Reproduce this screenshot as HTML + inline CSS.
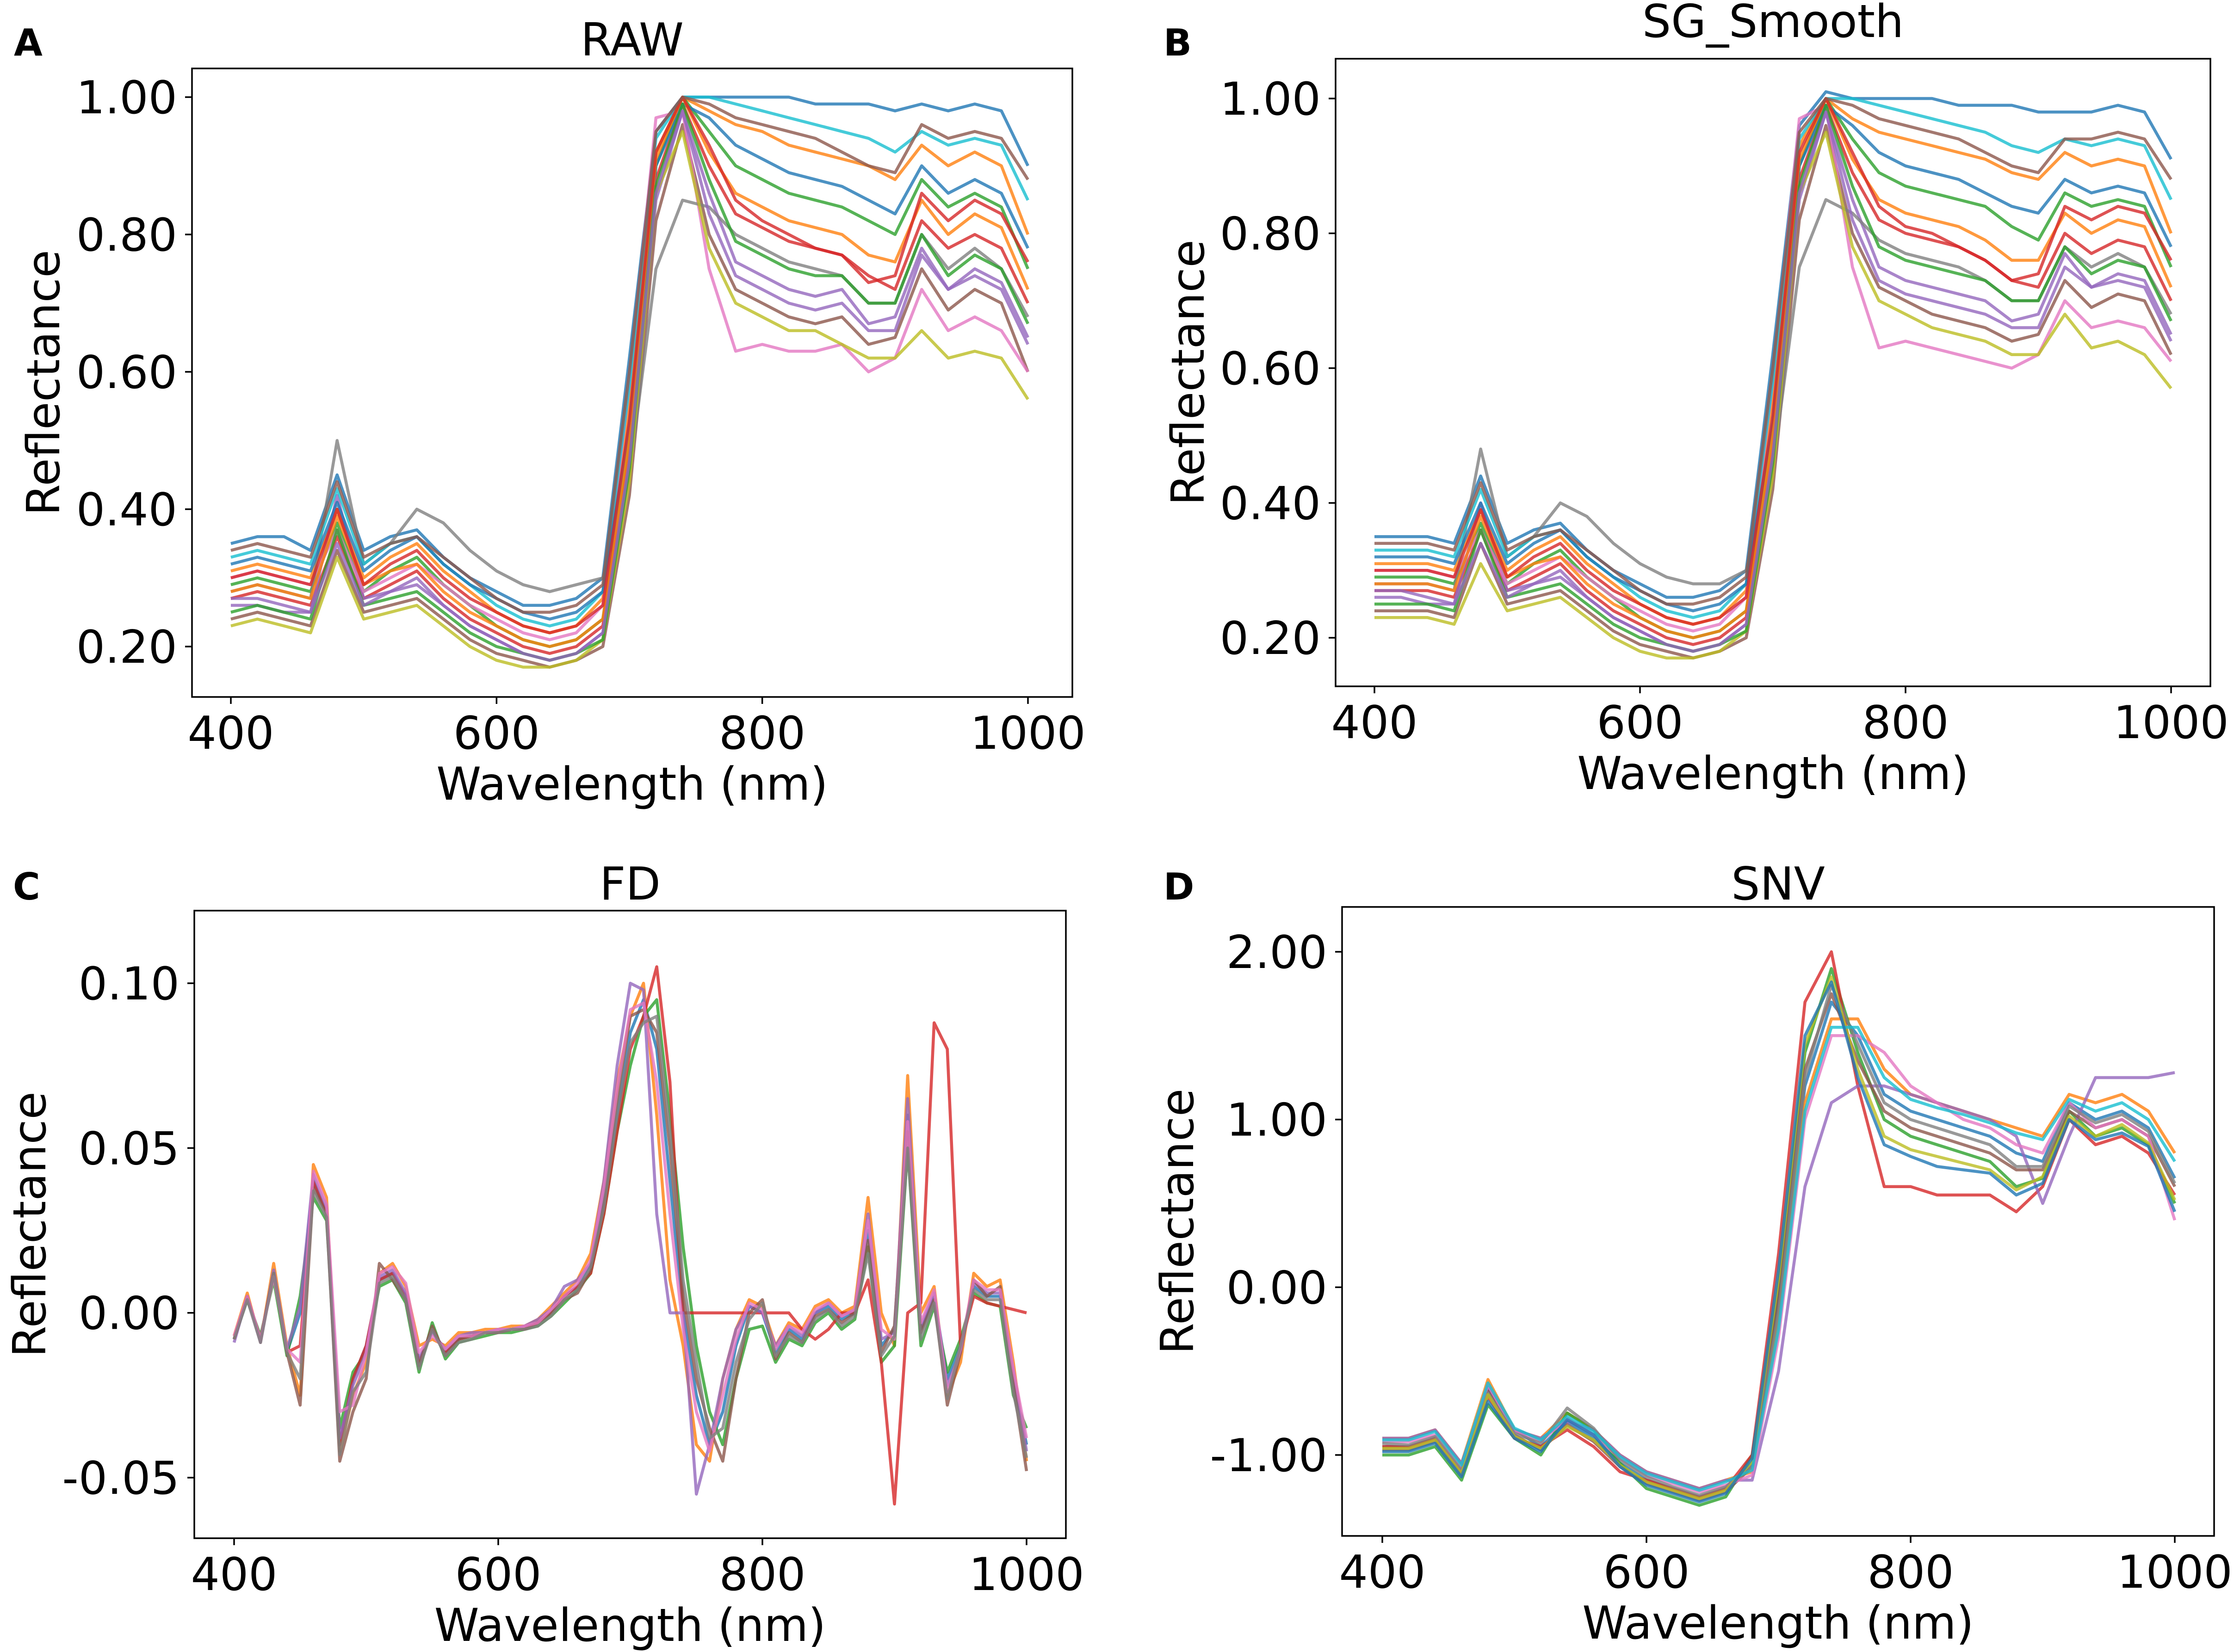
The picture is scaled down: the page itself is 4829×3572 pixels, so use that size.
<!DOCTYPE html>
<html><head><meta charset="utf-8"><style>
html,body{margin:0;padding:0;background:#fff;}
svg{display:block;}
text{font-family:"DejaVu Sans","Liberation Sans",sans-serif;fill:#000;}
</style></head><body>
<svg id="fig" xmlns="http://www.w3.org/2000/svg" width="4829" height="3572" viewBox="0 0 4829 3572"></svg>
<script>
const wl20=[400,420,440,460,480,500,520,540,560,580,600,620,640,660,680,700,720,740,760,780,800,820,840,860,880,900,920,940,960,980,1000];
const wl10=[400,410,420,430,440,450,460,470,480,490,500,510,520,530,540,550,560,570,580,590,600,610,620,630,640,650,660,670,680,690,700,710,720,730,740,750,760,770,780,790,800,810,820,830,840,850,860,870,880,890,900,910,920,930,940,950,960,970,980,990,1000];
const xTicks=[400,600,800,1000];
const xTickLabels=["400","600","800","1000"];

const rawS1=[0.35,0.36,0.36,0.34,0.45,0.34,0.36,0.37,0.33,0.30,0.28,0.26,0.26,0.27,0.30,0.62,0.95,1.0,1.0,1.0,1.0,1.0,0.99,0.99,0.99,0.98,0.99,0.98,0.99,0.98,0.90];
const rawS2=[0.31,0.32,0.31,0.30,0.40,0.30,0.33,0.35,0.31,0.28,0.25,0.23,0.22,0.23,0.27,0.55,0.92,1.0,0.98,0.96,0.95,0.93,0.92,0.91,0.90,0.88,0.93,0.90,0.92,0.90,0.80];
const rawS3=[0.29,0.30,0.29,0.28,0.38,0.28,0.31,0.33,0.29,0.26,0.23,0.21,0.20,0.21,0.24,0.50,0.90,1.0,0.95,0.90,0.88,0.86,0.85,0.84,0.82,0.80,0.88,0.84,0.86,0.84,0.75];
const rawS4=[0.27,0.28,0.27,0.26,0.36,0.27,0.29,0.31,0.27,0.24,0.22,0.20,0.19,0.20,0.23,0.48,0.88,0.99,0.90,0.83,0.81,0.79,0.78,0.77,0.74,0.72,0.82,0.78,0.80,0.78,0.70];
const rawS5=[0.26,0.26,0.25,0.25,0.42,0.27,0.28,0.29,0.26,0.23,0.21,0.19,0.18,0.19,0.22,0.45,0.85,0.98,0.86,0.76,0.74,0.72,0.71,0.72,0.67,0.68,0.78,0.72,0.75,0.73,0.65];
const rawS6=[0.24,0.25,0.24,0.23,0.34,0.25,0.26,0.27,0.24,0.21,0.19,0.18,0.17,0.18,0.20,0.42,0.82,0.96,0.80,0.72,0.70,0.68,0.67,0.68,0.64,0.65,0.75,0.69,0.72,0.70,0.60];
const rawS7=[0.30,0.31,0.30,0.29,0.37,0.28,0.30,0.32,0.29,0.26,0.24,0.22,0.21,0.22,0.26,0.58,0.97,0.98,0.75,0.63,0.64,0.63,0.63,0.64,0.60,0.62,0.72,0.66,0.68,0.66,0.60];
const rawS8=[0.28,0.29,0.28,0.27,0.50,0.32,0.35,0.40,0.38,0.34,0.31,0.29,0.28,0.29,0.30,0.45,0.75,0.85,0.84,0.80,0.78,0.76,0.75,0.74,0.70,0.70,0.80,0.75,0.78,0.75,0.68];
const rawS9=[0.23,0.24,0.23,0.22,0.33,0.24,0.25,0.26,0.23,0.20,0.18,0.17,0.17,0.18,0.21,0.44,0.86,0.95,0.78,0.70,0.68,0.66,0.66,0.64,0.62,0.62,0.66,0.62,0.63,0.62,0.56];
const rawS10=[0.33,0.34,0.33,0.32,0.43,0.32,0.35,0.36,0.32,0.29,0.26,0.24,0.23,0.24,0.28,0.58,0.94,1.0,1.0,0.99,0.98,0.97,0.96,0.95,0.94,0.92,0.95,0.93,0.94,0.93,0.85];
const rawS11=[0.32,0.33,0.32,0.31,0.41,0.31,0.34,0.36,0.32,0.29,0.27,0.25,0.24,0.25,0.28,0.52,0.90,0.99,0.97,0.93,0.91,0.89,0.88,0.87,0.85,0.83,0.90,0.86,0.88,0.86,0.78];
const rawS12=[0.28,0.29,0.28,0.27,0.39,0.29,0.31,0.32,0.28,0.25,0.23,0.21,0.20,0.21,0.24,0.50,0.91,1.0,0.92,0.86,0.84,0.82,0.81,0.80,0.77,0.76,0.85,0.80,0.83,0.81,0.72];
const rawS13=[0.25,0.26,0.25,0.24,0.37,0.26,0.27,0.28,0.25,0.22,0.20,0.19,0.18,0.19,0.21,0.46,0.87,0.99,0.88,0.79,0.77,0.75,0.74,0.74,0.70,0.70,0.80,0.74,0.77,0.75,0.67];
const rawS14=[0.30,0.31,0.30,0.29,0.40,0.29,0.32,0.34,0.30,0.27,0.25,0.23,0.22,0.23,0.26,0.53,0.92,1.0,0.93,0.85,0.82,0.80,0.78,0.77,0.73,0.74,0.86,0.82,0.85,0.83,0.76];
const rawS15=[0.27,0.27,0.26,0.25,0.35,0.26,0.28,0.30,0.26,0.23,0.21,0.19,0.18,0.19,0.22,0.47,0.86,0.98,0.83,0.74,0.72,0.70,0.69,0.70,0.66,0.66,0.77,0.72,0.74,0.72,0.64];
const rawS16=[0.34,0.35,0.34,0.33,0.44,0.33,0.35,0.36,0.33,0.30,0.27,0.25,0.25,0.26,0.29,0.60,0.95,1.0,0.99,0.97,0.96,0.95,0.94,0.92,0.90,0.89,0.96,0.94,0.95,0.94,0.88];

const sgS1=[0.35,0.35,0.35,0.34,0.44,0.34,0.36,0.37,0.33,0.30,0.28,0.26,0.26,0.27,0.30,0.62,0.96,1.01,1.0,1.0,1.0,1.0,0.99,0.99,0.99,0.98,0.98,0.98,0.99,0.98,0.91];
const sgS2=[0.31,0.31,0.31,0.30,0.39,0.30,0.33,0.35,0.31,0.28,0.25,0.23,0.22,0.23,0.27,0.56,0.93,1.0,0.97,0.95,0.94,0.93,0.92,0.91,0.89,0.88,0.92,0.90,0.91,0.90,0.80];
const sgS3=[0.29,0.29,0.29,0.28,0.37,0.28,0.31,0.33,0.29,0.26,0.23,0.21,0.20,0.21,0.24,0.51,0.90,1.0,0.94,0.89,0.87,0.86,0.85,0.84,0.81,0.79,0.86,0.84,0.85,0.84,0.75];
const sgS4=[0.27,0.27,0.27,0.26,0.36,0.27,0.29,0.31,0.27,0.24,0.22,0.20,0.19,0.20,0.23,0.48,0.88,0.99,0.89,0.82,0.80,0.79,0.78,0.76,0.73,0.72,0.80,0.77,0.79,0.78,0.70];
const sgS5=[0.26,0.26,0.25,0.25,0.40,0.27,0.28,0.29,0.26,0.23,0.21,0.19,0.18,0.19,0.22,0.45,0.85,0.98,0.85,0.75,0.73,0.72,0.71,0.70,0.67,0.68,0.77,0.72,0.74,0.73,0.65];
const sgS6=[0.24,0.24,0.24,0.23,0.34,0.25,0.26,0.27,0.24,0.21,0.19,0.18,0.17,0.18,0.20,0.42,0.82,0.96,0.80,0.72,0.70,0.68,0.67,0.66,0.64,0.65,0.73,0.69,0.71,0.70,0.62];
const sgS7=[0.30,0.30,0.30,0.29,0.36,0.28,0.30,0.32,0.29,0.26,0.24,0.22,0.21,0.22,0.26,0.58,0.97,0.99,0.75,0.63,0.64,0.63,0.62,0.61,0.60,0.62,0.70,0.66,0.67,0.66,0.61];
const sgS8=[0.28,0.28,0.28,0.27,0.48,0.32,0.35,0.40,0.38,0.34,0.31,0.29,0.28,0.28,0.30,0.45,0.75,0.85,0.83,0.79,0.77,0.76,0.75,0.73,0.70,0.70,0.78,0.75,0.77,0.75,0.68];
const sgS9=[0.23,0.23,0.23,0.22,0.31,0.24,0.25,0.26,0.23,0.20,0.18,0.17,0.17,0.18,0.21,0.44,0.86,0.95,0.78,0.70,0.68,0.66,0.65,0.64,0.62,0.62,0.68,0.63,0.64,0.62,0.57];
const sgS10=[0.33,0.33,0.33,0.32,0.42,0.32,0.35,0.36,0.32,0.29,0.26,0.24,0.23,0.24,0.28,0.58,0.94,1.0,1.0,0.99,0.98,0.97,0.96,0.95,0.93,0.92,0.94,0.93,0.94,0.93,0.85];
const sgS11=[0.32,0.32,0.32,0.31,0.40,0.31,0.34,0.36,0.32,0.29,0.27,0.25,0.24,0.25,0.28,0.52,0.90,0.99,0.96,0.92,0.90,0.89,0.88,0.86,0.84,0.83,0.88,0.86,0.87,0.86,0.78];
const sgS12=[0.28,0.28,0.28,0.27,0.38,0.29,0.31,0.32,0.28,0.25,0.23,0.21,0.20,0.21,0.24,0.50,0.91,1.0,0.91,0.85,0.83,0.82,0.81,0.79,0.76,0.76,0.83,0.80,0.82,0.81,0.72];
const sgS13=[0.25,0.25,0.25,0.24,0.36,0.26,0.27,0.28,0.25,0.22,0.20,0.19,0.18,0.19,0.21,0.46,0.87,0.99,0.87,0.78,0.76,0.75,0.74,0.73,0.70,0.70,0.78,0.74,0.76,0.75,0.67];
const sgS14=[0.30,0.30,0.30,0.29,0.39,0.29,0.32,0.34,0.30,0.27,0.25,0.23,0.22,0.23,0.26,0.53,0.92,1.0,0.92,0.84,0.81,0.80,0.78,0.76,0.73,0.74,0.84,0.82,0.84,0.83,0.76];
const sgS15=[0.27,0.27,0.26,0.25,0.34,0.26,0.28,0.30,0.26,0.23,0.21,0.19,0.18,0.19,0.22,0.47,0.86,0.98,0.82,0.73,0.71,0.70,0.69,0.68,0.66,0.66,0.75,0.72,0.73,0.72,0.64];
const sgS16=[0.34,0.34,0.34,0.33,0.43,0.33,0.35,0.36,0.33,0.30,0.27,0.25,0.25,0.26,0.29,0.60,0.95,1.0,0.99,0.97,0.96,0.95,0.94,0.92,0.90,0.89,0.94,0.94,0.95,0.94,0.88];

const fdS1=[-0.008,0.005,-0.008,0.012,-0.012,0.0,0.04,0.03,-0.04,-0.02,-0.01,0.01,0.012,0.005,-0.015,-0.005,-0.012,-0.008,-0.007,-0.006,-0.006,-0.005,-0.005,-0.003,0.0,0.005,0.008,0.015,0.035,0.06,0.085,0.095,0.08,0.04,0.0,-0.025,-0.04,-0.03,-0.01,0.002,0.0,-0.012,-0.005,-0.008,0.0,0.002,-0.002,0.0,0.025,-0.01,-0.005,0.06,-0.005,0.005,-0.02,-0.01,0.008,0.005,0.005,-0.02,-0.04];
const fdS2=[-0.007,0.006,-0.009,0.015,-0.01,-0.025,0.045,0.035,-0.042,-0.025,-0.015,0.012,0.015,0.008,-0.01,-0.008,-0.01,-0.006,-0.006,-0.005,-0.005,-0.004,-0.004,-0.002,0.002,0.006,0.01,0.018,0.04,0.07,0.09,0.1,0.06,0.01,-0.01,-0.04,-0.045,-0.02,-0.005,0.004,0.002,-0.01,-0.003,-0.005,0.002,0.004,0.0,0.002,0.035,0.0,-0.01,0.072,0.0,0.008,-0.025,-0.015,0.012,0.008,0.01,-0.015,-0.045];
const fdS3=[-0.008,0.004,-0.007,0.01,-0.013,0.005,0.035,0.028,-0.035,-0.018,-0.012,0.008,0.01,0.003,-0.018,-0.003,-0.014,-0.009,-0.008,-0.007,-0.006,-0.006,-0.005,-0.004,-0.001,0.003,0.007,0.012,0.03,0.055,0.075,0.09,0.095,0.06,0.02,-0.01,-0.03,-0.04,-0.02,-0.005,-0.004,-0.015,-0.008,-0.01,-0.003,0.0,-0.005,-0.002,0.02,-0.015,-0.01,0.05,-0.01,0.002,-0.018,-0.008,0.006,0.003,0.002,-0.025,-0.035];
const fdS4=[-0.008,0.005,-0.008,0.012,-0.012,-0.01,0.04,0.03,-0.04,-0.02,-0.01,0.01,0.012,0.005,-0.015,-0.005,-0.012,-0.008,-0.007,-0.006,-0.006,-0.005,-0.005,-0.003,0.0,0.005,0.008,0.012,0.03,0.055,0.08,0.09,0.105,0.07,0.0,0.0,0.0,0.0,0.0,0.0,0.0,0.0,0.0,-0.005,-0.008,-0.005,0.0,0.0,0.01,-0.015,-0.058,0.0,0.003,0.088,0.08,-0.01,0.005,0.003,0.002,0.001,0.0];
const fdS5=[-0.009,0.005,-0.009,0.013,-0.011,0.002,0.042,0.032,-0.038,-0.022,-0.012,0.011,0.013,0.006,-0.014,-0.006,-0.011,-0.007,-0.006,-0.006,-0.005,-0.005,-0.004,-0.002,0.001,0.008,0.01,0.015,0.04,0.075,0.1,0.098,0.03,0.0,0.0,-0.055,-0.04,-0.02,-0.005,0.002,0.0,-0.01,-0.004,-0.007,0.0,0.003,-0.001,0.001,0.03,-0.008,-0.006,0.065,-0.004,0.006,-0.022,-0.012,0.009,0.006,0.006,-0.018,-0.042];
const fdS6=[-0.008,0.005,-0.008,0.012,-0.012,-0.028,0.038,0.03,-0.045,-0.03,-0.02,0.015,0.01,0.004,-0.016,-0.004,-0.013,-0.008,-0.007,-0.006,-0.006,-0.005,-0.005,-0.003,0.0,0.004,0.006,0.013,0.033,0.065,0.09,0.092,0.085,0.05,0.005,-0.02,-0.035,-0.045,-0.02,0.0,0.004,-0.014,-0.006,-0.009,-0.001,0.001,-0.003,0.0,0.022,-0.012,-0.004,0.055,-0.006,0.004,-0.028,-0.012,0.01,0.005,0.008,-0.022,-0.048];
const fdS7=[-0.007,0.005,-0.008,0.011,-0.011,-0.015,0.043,0.033,-0.03,-0.028,-0.012,0.012,0.014,0.009,-0.012,-0.007,-0.011,-0.007,-0.007,-0.006,-0.005,-0.005,-0.004,-0.003,0.001,0.005,0.009,0.016,0.038,0.068,0.092,0.094,0.07,0.03,-0.005,-0.03,-0.042,-0.025,-0.008,0.003,0.001,-0.011,-0.004,-0.006,0.001,0.003,-0.001,0.001,0.028,-0.005,-0.008,0.058,-0.003,0.007,-0.024,-0.011,0.01,0.007,0.007,-0.017,-0.038];
const fdS8=[-0.008,0.004,-0.009,0.012,-0.012,-0.02,0.037,0.029,-0.043,-0.024,-0.018,0.009,0.011,0.004,-0.017,-0.005,-0.013,-0.009,-0.008,-0.006,-0.006,-0.005,-0.005,-0.004,-0.001,0.004,0.007,0.014,0.032,0.06,0.082,0.088,0.09,0.055,0.01,-0.015,-0.038,-0.035,-0.015,-0.002,0.003,-0.013,-0.007,-0.009,-0.002,0.001,-0.004,-0.001,0.018,-0.013,-0.007,0.05,-0.008,0.003,-0.026,-0.01,0.007,0.004,0.004,-0.024,-0.044];

const snvS1=[-0.95,-0.95,-0.9,-1.1,-0.6,-0.85,-0.95,-0.8,-0.9,-1.05,-1.15,-1.2,-1.25,-1.2,-1.05,-0.1,1.2,1.7,1.5,1.15,1.05,1.0,0.95,0.9,0.8,0.75,1.1,1.0,1.05,0.95,0.65];
const snvS2=[-0.9,-0.9,-0.85,-1.05,-0.55,-0.85,-0.9,-0.75,-0.85,-1.0,-1.1,-1.15,-1.2,-1.15,-1.1,-0.2,1.1,1.6,1.6,1.3,1.15,1.1,1.05,1.0,0.95,0.9,1.15,1.1,1.15,1.05,0.8];
const snvS3=[-1.0,-1.0,-0.95,-1.15,-0.7,-0.9,-1.0,-0.75,-0.85,-1.05,-1.2,-1.25,-1.3,-1.25,-1.0,0.0,1.4,1.9,1.4,1.0,0.9,0.85,0.8,0.75,0.6,0.65,1.05,0.9,0.95,0.85,0.5];
const snvS4=[-0.95,-0.95,-0.9,-1.1,-0.65,-0.9,-0.95,-0.85,-0.95,-1.1,-1.15,-1.2,-1.25,-1.2,-1.0,0.2,1.7,2.0,1.2,0.6,0.6,0.55,0.55,0.55,0.45,0.6,1.0,0.85,0.9,0.8,0.55];
const snvS5=[-0.9,-0.9,-0.85,-1.05,-0.6,-0.85,-0.9,-0.8,-0.85,-1.0,-1.1,-1.15,-1.2,-1.15,-1.15,-0.5,0.6,1.1,1.2,1.2,1.15,1.1,1.05,1.0,0.9,0.5,0.9,1.25,1.25,1.25,1.28];
const snvS6=[-0.97,-0.97,-0.92,-1.12,-0.62,-0.88,-0.97,-0.82,-0.92,-1.07,-1.17,-1.22,-1.27,-1.22,-1.07,-0.05,1.3,1.75,1.35,1.05,0.95,0.9,0.85,0.8,0.7,0.7,1.05,0.95,1.0,0.9,0.6];
const snvS7=[-0.92,-0.92,-0.88,-1.08,-0.58,-0.86,-0.92,-0.78,-0.88,-1.02,-1.12,-1.17,-1.22,-1.18,-1.12,-0.3,1.0,1.5,1.5,1.4,1.2,1.1,1.0,0.95,0.85,0.8,1.1,0.95,1.0,0.9,0.4];
const snvS8=[-0.93,-0.94,-0.89,-1.09,-0.63,-0.87,-0.93,-0.72,-0.84,-1.03,-1.13,-1.19,-1.24,-1.19,-1.06,-0.15,1.25,1.8,1.45,1.1,1.0,0.95,0.9,0.85,0.72,0.72,1.08,0.98,1.03,0.93,0.62];
const snvS9=[-0.96,-0.96,-0.91,-1.11,-0.64,-0.89,-0.96,-0.83,-0.91,-1.06,-1.16,-1.21,-1.26,-1.21,-1.04,0.05,1.45,1.85,1.3,0.9,0.82,0.78,0.74,0.7,0.58,0.66,1.02,0.9,0.97,0.86,0.52];
const snvS10=[-0.91,-0.91,-0.86,-1.06,-0.57,-0.84,-0.91,-0.77,-0.86,-1.01,-1.11,-1.16,-1.21,-1.16,-1.09,-0.25,1.05,1.55,1.55,1.25,1.12,1.07,1.03,0.98,0.92,0.88,1.12,1.05,1.1,1.0,0.75];
const snvS11=[-0.98,-0.98,-0.93,-1.13,-0.68,-0.9,-0.98,-0.79,-0.88,-1.07,-1.18,-1.23,-1.28,-1.23,-1.02,0.1,1.5,1.82,1.25,0.85,0.78,0.72,0.7,0.68,0.55,0.62,1.0,0.88,0.92,0.84,0.45];

const rawYTicks=[0.2,0.4,0.6,0.8,1.0];
const rawYLabels=["0.20","0.40","0.60","0.80","1.00"];
const fdYTicks=[-0.05,0,0.05,0.1];
const fdYLabels=["-0.05","0.00","0.05","0.10"];
const snvYTicks=[-1,0,1,2];
const snvYLabels=["-1.00","0.00","1.00","2.00"];

const colors=["#1f77b4","#ff7f0e","#2ca02c","#d62728","#9467bd","#8c564b","#e377c2","#7f7f7f","#bcbd22","#17becf"];
const NS="http://www.w3.org/2000/svg";
const svg=document.getElementById('fig');
function el(tag,attrs,parent){const e=document.createElementNS(NS,tag);for(const k in attrs)e.setAttribute(k,attrs[k]);(parent||svg).appendChild(e);return e;}

function panel(cfg){
  const g=el('g',{});
  
  
  const xs=v=>cfg.x0p+(v-400)*(cfg.x1p-cfg.x0p)/600;
  const ys=v=>cfg.ya+(v-cfg.va)*(cfg.yb-cfg.ya)/(cfg.vb-cfg.va);
  const clip=el('clipPath',{id:'clip-'+cfg.id},g);
  el('rect',{x:cfg.L,y:cfg.T,width:cfg.R-cfg.L,height:cfg.B-cfg.T},clip);
  const lines=el('g',{'clip-path':'url(#clip-'+cfg.id+')'},g);
  cfg.series.forEach((s,i)=>{
    const d=s.map((v,j)=>(j?'L':'M')+xs(cfg.wl[j]).toFixed(1)+' '+ys(v).toFixed(1)).join(' ');
    const p=el('path',{d:d,fill:'none',stroke:colors[i%10],'stroke-width':6.5,'stroke-opacity':0.8,'stroke-linejoin':'round'},lines);
    
    
  });
  const frame=el('rect',{x:cfg.L,y:cfg.T,width:cfg.R-cfg.L,height:cfg.B-cfg.T,fill:'none',stroke:'#000','stroke-width':3.5},g);
  
  
  xTicks.forEach((t,i)=>{
    const x=xs(t);
    el('line',{x1:x,x2:x,y1:cfg.B,y2:cfg.B+15,stroke:'#000','stroke-width':3.5},g);
    const tx=el('text',{x:x,y:cfg.B+112,'font-size':98,'text-anchor':'middle'},g);
    tx.textContent=xTickLabels[i];
    
    
  });
  cfg.yt.forEach((t,i)=>{
    const y=ys(t);
    el('line',{x1:cfg.L-15,x2:cfg.L,y1:y,y2:y,stroke:'#000','stroke-width':3.5},g);
    const tx=el('text',{x:cfg.L-32,y:y+35,'font-size':98,'text-anchor':'end'},g);
    tx.textContent=cfg.yl[i];
    
    
  });
  const xl=el('text',{x:(cfg.L+cfg.R)/2,y:cfg.B+222,'font-size':98,'text-anchor':'middle'},g);
  xl.textContent='Wavelength (nm)';
  
  
  const yc=(cfg.T+cfg.B)/2;
  const yl=el('text',{x:cfg.L-cfg.ylOff,y:yc,'font-size':98,'text-anchor':'middle',transform:'rotate(-90 '+(cfg.L-cfg.ylOff)+' '+yc+')'},g);
  yl.textContent='Reflectance';
  
  
  const ti=el('text',{x:(cfg.L+cfg.R)/2,y:cfg.titleY,'font-size':98,'text-anchor':'middle'},g);
  ti.textContent=cfg.title;
  
  
  const lt=el('text',{x:cfg.letterX,y:cfg.letterY,'font-size':80,'font-weight':'bold'},g);
  lt.textContent=cfg.letter;
  
  
}

panel({id:'raw',title:'RAW',letter:'A',letterX:30,letterY:120,titleY:120,L:415,R:2318,T:148,B:1507,x0p:499,x1p:2222,va:1.0,ya:210,vb:0.2,yb:1398,wl:wl20,yt:rawYTicks,yl:rawYLabels,ylOff:287,
  series:[rawS1,rawS2,rawS3,rawS4,rawS5,rawS6,rawS7,rawS8,rawS9,rawS10,rawS11,rawS12,rawS13,rawS14,rawS15,rawS16]});
panel({id:'sg',title:'SG_Smooth',letter:'B',letterX:2515,letterY:120,titleY:80,L:2887,R:4778,T:127,B:1484,x0p:2971,x1p:4693,va:1.0,ya:213,vb:0.2,yb:1379,wl:wl20,yt:rawYTicks,yl:rawYLabels,ylOff:285,
  series:[sgS1,sgS2,sgS3,sgS4,sgS5,sgS6,sgS7,sgS8,sgS9,sgS10,sgS11,sgS12,sgS13,sgS14,sgS15,sgS16]});
panel({id:'fd',title:'FD',letter:'C',letterX:28,letterY:1945,titleY:1945,L:420,R:2304,T:1969,B:3326,x0p:506,x1p:2219,va:0.1,ya:2126,vb:-0.05,yb:3195,wl:wl10,yt:fdYTicks,yl:fdYLabels,ylOff:322,
  series:[fdS1,fdS2,fdS3,fdS4,fdS5,fdS6,fdS7,fdS8]});
panel({id:'snv',title:'SNV',letter:'D',letterX:2515,letterY:1945,titleY:1945,L:2901,R:4786,T:1961,B:3321,x0p:2988,x1p:4701,va:2,ya:2058,vb:-1,yb:3146,wl:wl20,yt:snvYTicks,yl:snvYLabels,ylOff:322,
  series:[snvS1,snvS2,snvS3,snvS4,snvS5,snvS6,snvS7,snvS8,snvS9,snvS10,snvS11]});
</script>
</body></html>
